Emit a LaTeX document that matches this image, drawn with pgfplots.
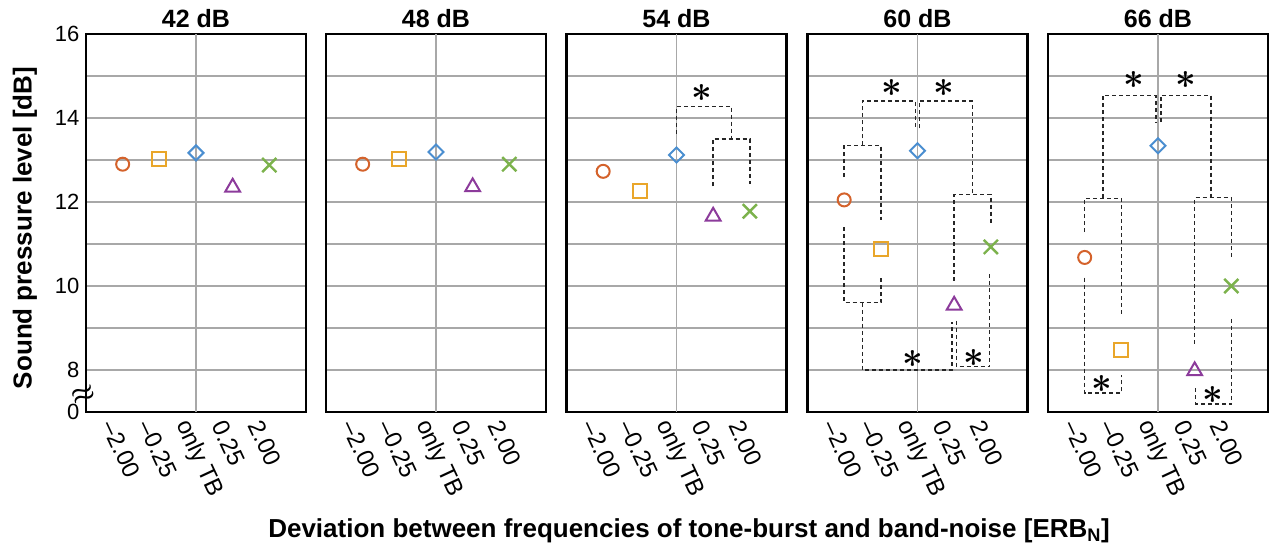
\documentclass[border=0pt]{standalone}
\usepackage{fontspec}
\setmainfont{Liberation Sans}
\usepackage{pgfplots}
\usepackage{pgfplotstable}
\pgfplotsset{compat=1.18}

\definecolor{cC}{HTML}{D4622B}
\definecolor{cS}{HTML}{E9A62A}
\definecolor{cD}{HTML}{4A8ED0}
\definecolor{cT}{HTML}{8C3B9B}
\definecolor{cX}{HTML}{7CB24C}
\definecolor{gridg}{HTML}{A8A8A8}

\pgfdeclareplotmark{rdia}{%
  \pgfpathmoveto{\pgfqpoint{0pt}{\pgfplotmarksize}}%
  \pgfpathlineto{\pgfqpoint{\pgfplotmarksize}{0pt}}%
  \pgfpathlineto{\pgfqpoint{0pt}{-\pgfplotmarksize}}%
  \pgfpathlineto{\pgfqpoint{-\pgfplotmarksize}{0pt}}%
  \pgfpathclose\pgfusepathqstroke}

\pgfplotstableread{
x y c
1 12.90 a
2 13.03 b
3 13.17 d
4 12.35 t
5 12.88 x
}\tA
\pgfplotstableread{
x y c
1 12.90 a
2 13.03 b
3 13.19 d
4 12.36 t
5 12.90 x
}\tB
\pgfplotstableread{
x y c
1 12.73 a
2 12.26 b
3 13.12 d
4 11.66 t
5 11.78 x
}\tC
\pgfplotstableread{
x y c
1 12.05 a
2 10.87 b
3 13.22 d
4 9.54 t
5 10.93 x
}\tD
\pgfplotstableread{
x y c
1 10.68 a
2 8.47 b
3 13.34 d
4 7.98 t
5 10.00 x
}\tE

\tikzset{st/.style={font=\boldmath\fontsize{24}{24}\selectfont, inner sep=0pt, scale=1.45}}
\pgfplotsset{
  panel/.style={
    width=220pt, height=378pt, scale only axis,
    anchor=south west,
    xmin=0, xmax=6, ymin=7, ymax=16,
    axis line style={line width=2.2pt},
    xtick={1,...,5}, xticklabels={--2.00,--0.25,only TB,0.25,2.00},
    ytick={7,...,16}, yticklabels={},
    major tick length=0pt,
    ymajorgrids, grid style={gridg, line width=1.2pt},
    x tick label style={rotate=-65, anchor=west, inner sep=0pt, yshift=-17pt, xshift=3pt,
      font=\fontsize{24}{24}\selectfont},
    y tick label style={font=\fontsize{22}{22}\selectfont, xshift=-3pt},
    title style={font=\bfseries\fontsize{25}{25}\selectfont, at={(0.5,1)}, anchor=base, yshift=0pt, inner sep=0pt},
    clip=false,
  },
  pts/.style={scatter, only marks, scatter src=explicit symbolic,
    scatter/classes={
      a={mark=o, mark size=6.5pt, draw=cC, line width=2pt},
      b={mark=square, mark size=7pt, draw=cS, line width=2pt},
      d={mark=rdia, mark size=7.5pt, draw=cD, line width=2pt},
      t={mark=triangle, mark size=8.5pt, draw=cT, line width=2pt},
      x={mark=x, mark size=10pt, draw=cX, line width=2.4pt}
    }},
  vg/.style={gridg, line width=1.2pt, forget plot},
  br/.style={black!85, line width=1.4pt, dash pattern=on 4pt off 3pt},
}

\begin{document}
\begin{tikzpicture}
% panel 1
\begin{axis}[panel, at={(86pt,137pt)}, title={42 dB},
  yticklabels={0,8,,10,,12,,14,,16}]
\addplot[vg] coordinates {(3,7) (3,16)};
\addplot[pts] table[x=x, y=y, meta=c] {\tA};
\node[font=\boldmath\fontsize{22}{22}\selectfont, rotate=20, inner sep=0pt, scale=1.3] at (axis cs:-0.08,7.4) {$\approx$};
\end{axis}
% panel 2
\begin{axis}[panel, at={(326pt,137pt)}, title={48 dB}]
\addplot[vg] coordinates {(3,7) (3,16)};
\addplot[pts] table[x=x, y=y, meta=c] {\tB};
\end{axis}
% panel 3
\begin{axis}[panel, at={(566.5pt,137pt)}, title={54 dB}]
\addplot[vg] coordinates {(3,7) (3,16)};
\addplot[br] coordinates {(4,12.37) (4,13.5) (5,13.5) (5,12.42)};
\addplot[br] coordinates {(3,13.62) (3,14.28) (4.5,14.28) (4.5,13.5)};
\node[st] at (axis cs:3.68,14.6) {$\ast$};
\addplot[pts] table[x=x, y=y, meta=c] {\tC};
\end{axis}
% panel 4
\begin{axis}[panel, at={(807.5pt,137pt)}, title={60 dB}]
\addplot[vg] coordinates {(3,7) (3,16)};
\addplot[br] coordinates {(1,12.59) (1,13.35) (2,13.35) (2,11.58)};
\addplot[br] coordinates {(1.5,13.35) (1.5,14.40) (2.94,14.40) (2.94,13.75)};
\addplot[br] coordinates {(3.06,13.75) (3.06,14.40) (4.5,14.40) (4.5,12.18)};
\addplot[br] coordinates {(4,10.13) (4,12.18) (5,12.18) (5,11.47)};
\addplot[br] coordinates {(1,11.4) (1,9.60) (2,9.60) (2,10.18)};
\addplot[br] coordinates {(1.5,9.60) (1.5,8.0) (3.94,8.0) (3.94,9.15)};
\addplot[br] coordinates {(4.06,9.17) (4.06,8.08) (4.97,8.08) (4.97,10.32)};
\node[st] at (axis cs:2.3,14.72) {$\ast$};
\node[st] at (axis cs:3.73,14.72) {$\ast$};
\node[st] at (axis cs:2.86,8.26) {$\ast$};
\node[st] at (axis cs:4.55,8.29) {$\ast$};
\addplot[pts] table[x=x, y=y, meta=c] {\tD};
\end{axis}
% panel 5
\begin{axis}[panel, at={(1048pt,137pt)}, title={66 dB}]
\addplot[vg] coordinates {(3,7) (3,16)};
\addplot[br] coordinates {(1.5,12.09) (1.5,14.54) (2.94,14.54) (2.94,13.9)};
\addplot[br] coordinates {(3.08,13.9) (3.08,14.54) (4.44,14.54) (4.44,12.11)};
\addplot[br] coordinates {(1,11.28) (1,12.08) (2,12.08) (2,9.34)};
\addplot[br] coordinates {(4,8.62) (4,12.1) (5,12.1) (5,10.65)};
\addplot[br] coordinates {(1,10.2) (1,7.45) (2,7.45) (2,7.88)};
\addplot[br] coordinates {(5,9.22) (5,7.19) (4.03,7.19) (4.03,7.57)};
\node[st] at (axis cs:2.34,14.9) {$\ast$};
\node[st] at (axis cs:3.76,14.9) {$\ast$};
\node[st] at (axis cs:1.47,7.67) {$\ast$};
\node[st] at (axis cs:4.5,7.4) {$\ast$};
\addplot[pts] table[x=x, y=y, meta=c] {\tE};
\end{axis}
\node[rotate=90, font=\bfseries\fontsize{26}{26}\selectfont] at (25pt,321pt) {Sound pressure level [dB]};
\node[font=\bfseries\fontsize{26}{26}\selectfont] at (689pt,18pt) {Deviation between frequencies of tone-burst and band-noise [ERB\textsubscript{N}]};
\pgfresetboundingbox
\path (0,0) rectangle (1269pt,549pt);
\end{tikzpicture}
\end{document}
